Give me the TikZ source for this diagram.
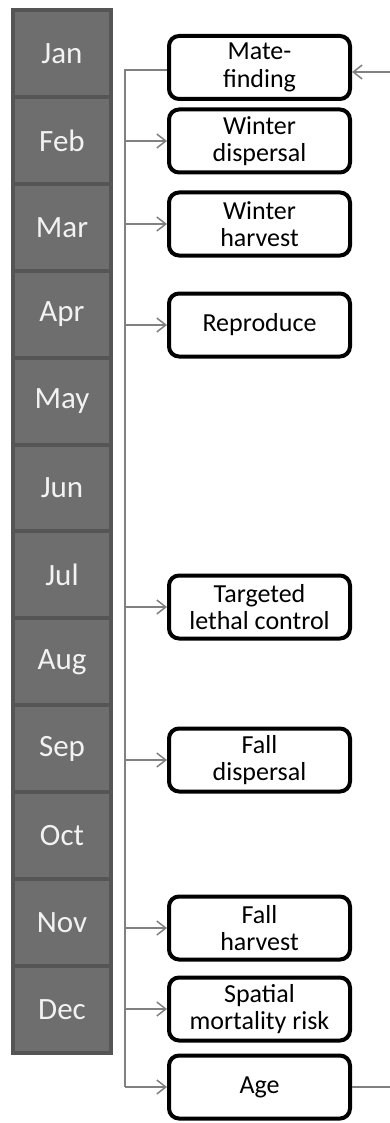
\documentclass[tikz,border=0pt]{standalone}
\usepackage{fontspec}
\setmainfont{Carlito}
\usetikzlibrary{arrows.meta}
\definecolor{cellfill}{HTML}{6E6E6E}
\definecolor{cellborder}{HTML}{555555}
\definecolor{monthtext}{HTML}{F2F2F2}
\definecolor{linkgray}{HTML}{808080}
\tikzset{
  monthcell/.style={fill=cellfill, draw=none, minimum width=94pt, minimum height=82.9pt, inner sep=0pt,
    text=monthtext, font=\fontsize{31}{34}\selectfont},
  eventbox/.style={draw=black, line width=4pt, rounded corners=10pt, fill=white,
    minimum width=181pt, minimum height=63pt, inner sep=0pt, align=center,
    font=\fontsize{26}{27.5}\selectfont},
  link/.style={draw=linkgray, line width=1.5pt},
  linkarrow/.style={link, -{Straight Barb[length=9pt,width=14pt,line width=1.5pt]}}
}
\begin{document}
\begin{tikzpicture}[x=1pt,y=-1pt]
\useasboundingbox (0,0) rectangle (390,1123);
% month column
\fill[cellborder] (11,8) rectangle (113,1055);
\foreach \m [count=\i from 0] in {Jan,Feb,Mar,Apr,May,Jun,Jul,Aug,Sep,Oct,Nov,Dec} {
  \node[monthcell] (m\i) at (62,{12+\i*86.9+41.45}) {\m};
}
% event boxes
\node[eventbox] (mate) at (259.5,67.5) {Mate-\\finding};
\node[eventbox] (wdisp) at (259.5,141) {Winter\\dispersal};
\node[eventbox] (wharv) at (259.5,224) {Winter\\harvest};
\node[eventbox] (repro) at (259.5,325) {Reproduce};
\node[eventbox] (tlc) at (259.5,607) {Targeted\\lethal control};
\node[eventbox] (fdisp) at (259.5,760) {Fall\\dispersal};
\node[eventbox] (fharv) at (259.5,928) {Fall\\harvest};
\node[eventbox] (smr) at (259.5,1009) {Spatial\\mortality risk};
\node[eventbox] (age) at (259.5,1087) {Age};
% trunk
\coordinate (vtop) at (125,70);
\coordinate (vbot) at (125,1087);
\draw[link] (mate.west |- vtop) -- (vtop) -- (vbot);
\foreach \b in {wdisp,wharv,repro,tlc,fdisp,fharv,smr,age} {
  \draw[linkarrow] (vtop |- \b.west) -- (\b.west);
}
% loop ends at right edge
\coordinate (rin) at (390,72);
\coordinate (rout) at (390,1087);
\draw[linkarrow] (rin) -- (mate.east |- rin);
\draw[link] (age.east) -- (rout);
\end{tikzpicture}
\end{document}
